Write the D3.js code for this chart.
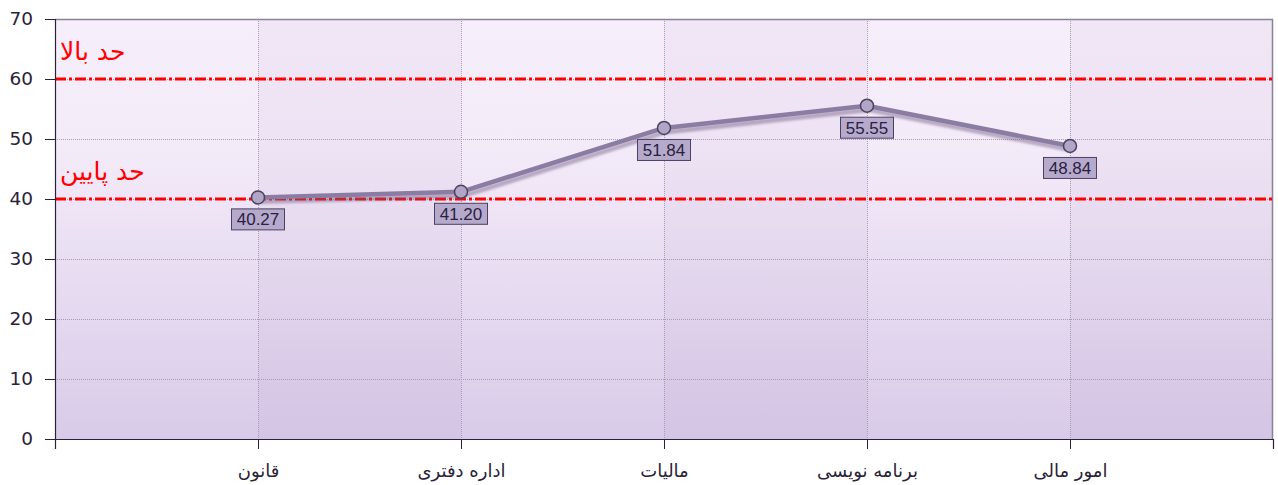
<!DOCTYPE html>
<html><head><meta charset="utf-8">
<script src="https://cdn.jsdelivr.net/npm/d3@7"></script>
<style>body{margin:0;background:#fff}svg{display:block}</style>
</head><body>
<svg id="c" width="1278" height="485"></svg>
<script>
const categories = ["قانون","اداره دفتری","مالیات","برنامه نویسی","امور مالی"];
const values = [40.27, 41.20, 51.84, 55.55, 48.84];
const yTicks = [0,10,20,30,40,50,60,70];
const limits = [60, 40];
const limitLabels = ["حد بالا","حد پایین"];

const W=1278,H=485, m={l:55,r:5,t:19,b:46};
const svg=d3.select("#c");
const x=d3.scaleLinear().domain([0,categories.length+1]).range([m.l,W-m.r]);
const y=d3.scaleLinear().domain([0,70]).range([H-m.b,m.t]);
const font="DejaVu Sans, sans-serif";

const defs=svg.append("defs");
const g=defs.append("linearGradient").attr("id","bg").attr("x1",0).attr("y1",0).attr("x2",0).attr("y2",1);
g.append("stop").attr("offset","0%").attr("stop-color","#f6eefa");
g.append("stop").attr("offset","30%").attr("stop-color","#f4ebf9");
g.append("stop").attr("offset","100%").attr("stop-color","#d8cbe9");
const f=defs.append("filter").attr("id","blur").attr("x","-5%").attr("y","-50%").attr("width","110%").attr("height","200%");
f.append("feGaussianBlur").attr("stdDeviation",1);

svg.append("rect").attr("x",x(0)).attr("y",y(70)).attr("width",x(6)-x(0)).attr("height",y(0)-y(70)).attr("fill","url(#bg)");
// alternating columns
d3.range(6).forEach(i=>{ if(i%2===1) svg.append("rect").attr("x",x(i)).attr("y",y(70)).attr("width",x(i+1)-x(i)).attr("height",y(0)-y(70)).attr("fill","#5a3c78").attr("opacity",0.04);});

// grid
svg.append("g").selectAll("line").data(yTicks.slice(1,-1)).join("line")
 .attr("x1",x(0)).attr("x2",x(6)).attr("y1",d=>y(d)+0.5).attr("y2",d=>y(d)+0.5)
 .attr("stroke","#a79db5").attr("stroke-dasharray","1,1").attr("stroke-width",1);
svg.append("g").selectAll("line").data(d3.range(1,6)).join("line")
 .attr("x1",d=>Math.round(x(d))+0.5).attr("x2",d=>Math.round(x(d))+0.5).attr("y1",y(70)).attr("y2",y(0))
 .attr("stroke","#a79db5").attr("stroke-dasharray","1,1").attr("stroke-width",1);

// border top/right
svg.append("path").attr("d",`M${x(0)},${y(70)+0.5}H${x(6)-0.5}V${y(0)}`).attr("fill","none").attr("stroke","#8a8098").attr("stroke-width",1.5);

// limit lines
svg.append("g").selectAll("line").data(limits).join("line")
 .attr("x1",x(0)).attr("x2",x(6)).attr("y1",d=>y(d)).attr("y2",d=>y(d))
 .attr("stroke","#ff0000").attr("stroke-width",3).attr("stroke-dasharray","11,3,3,3");
svg.append("g").selectAll("text").data(limits).join("text")
 .attr("x",60).attr("y",d=>y(d)-19).attr("fill","#ff0000").attr("font-family",font).attr("font-size",25)
 .text((d,i)=>limitLabels[i]);

// axes
const ya=svg.append("g").attr("transform",`translate(${x(0)},0)`).call(d3.axisLeft(y).tickValues(yTicks).tickSize(10).tickPadding(12));
ya.select(".domain").attr("stroke","#2a2338").attr("stroke-width",1.2);
ya.selectAll(".tick line").attr("stroke","#2a2338");
ya.selectAll("text").attr("font-family",font).attr("font-size",18.5).attr("fill","#2a2338");
const xa=svg.append("g").attr("transform",`translate(0,${y(0)})`).call(d3.axisBottom(x).tickValues(d3.range(0,7)).tickSize(10).tickPadding(15).tickFormat(d=>(d>=1&&d<=5)?categories[d-1]:""));
xa.select(".domain").attr("stroke","#2a2338").attr("stroke-width",1.2);
xa.selectAll(".tick line").attr("stroke","#2a2338");
xa.selectAll("text").attr("font-family",font).attr("font-size",18).attr("fill","#2a2338");

// line
const pts=values.map((v,i)=>[x(i+1),y(v)]);
const line=d3.line();
svg.append("path").attr("d",line(pts.map(p=>[p[0]+2,p[1]+4]))).attr("fill","none").attr("stroke","#6e5a80").attr("stroke-opacity",0.45).attr("stroke-width",5).attr("filter","url(#blur)");
svg.append("path").attr("d",line(pts)).attr("fill","none").attr("stroke","#8a7ca2").attr("stroke-width",4.5).attr("stroke-linejoin","round");
svg.append("g").selectAll("circle").data(pts).join("circle").attr("cx",d=>d[0]).attr("cy",d=>d[1]).attr("r",6.5)
 .attr("fill","#b1a6c5").attr("stroke","#4b4160").attr("stroke-width",1.5);

// labels
const lg=svg.append("g").selectAll("g").data(values).join("g").attr("transform",(d,i)=>`translate(${x(i+1)},${y(d)+11})`);
lg.append("rect").attr("x",-26.5).attr("y",0.5).attr("width",53).attr("height",21).attr("fill","#b6aacc").attr("stroke","#4b4160").attr("stroke-width",1);
lg.append("text").attr("x",0).attr("y",17).attr("text-anchor","middle").attr("font-family","Liberation Sans, Arial, sans-serif").attr("font-size",17).attr("fill","#2a2040").text(d=>d.toFixed(2));
</script>
</body></html>
